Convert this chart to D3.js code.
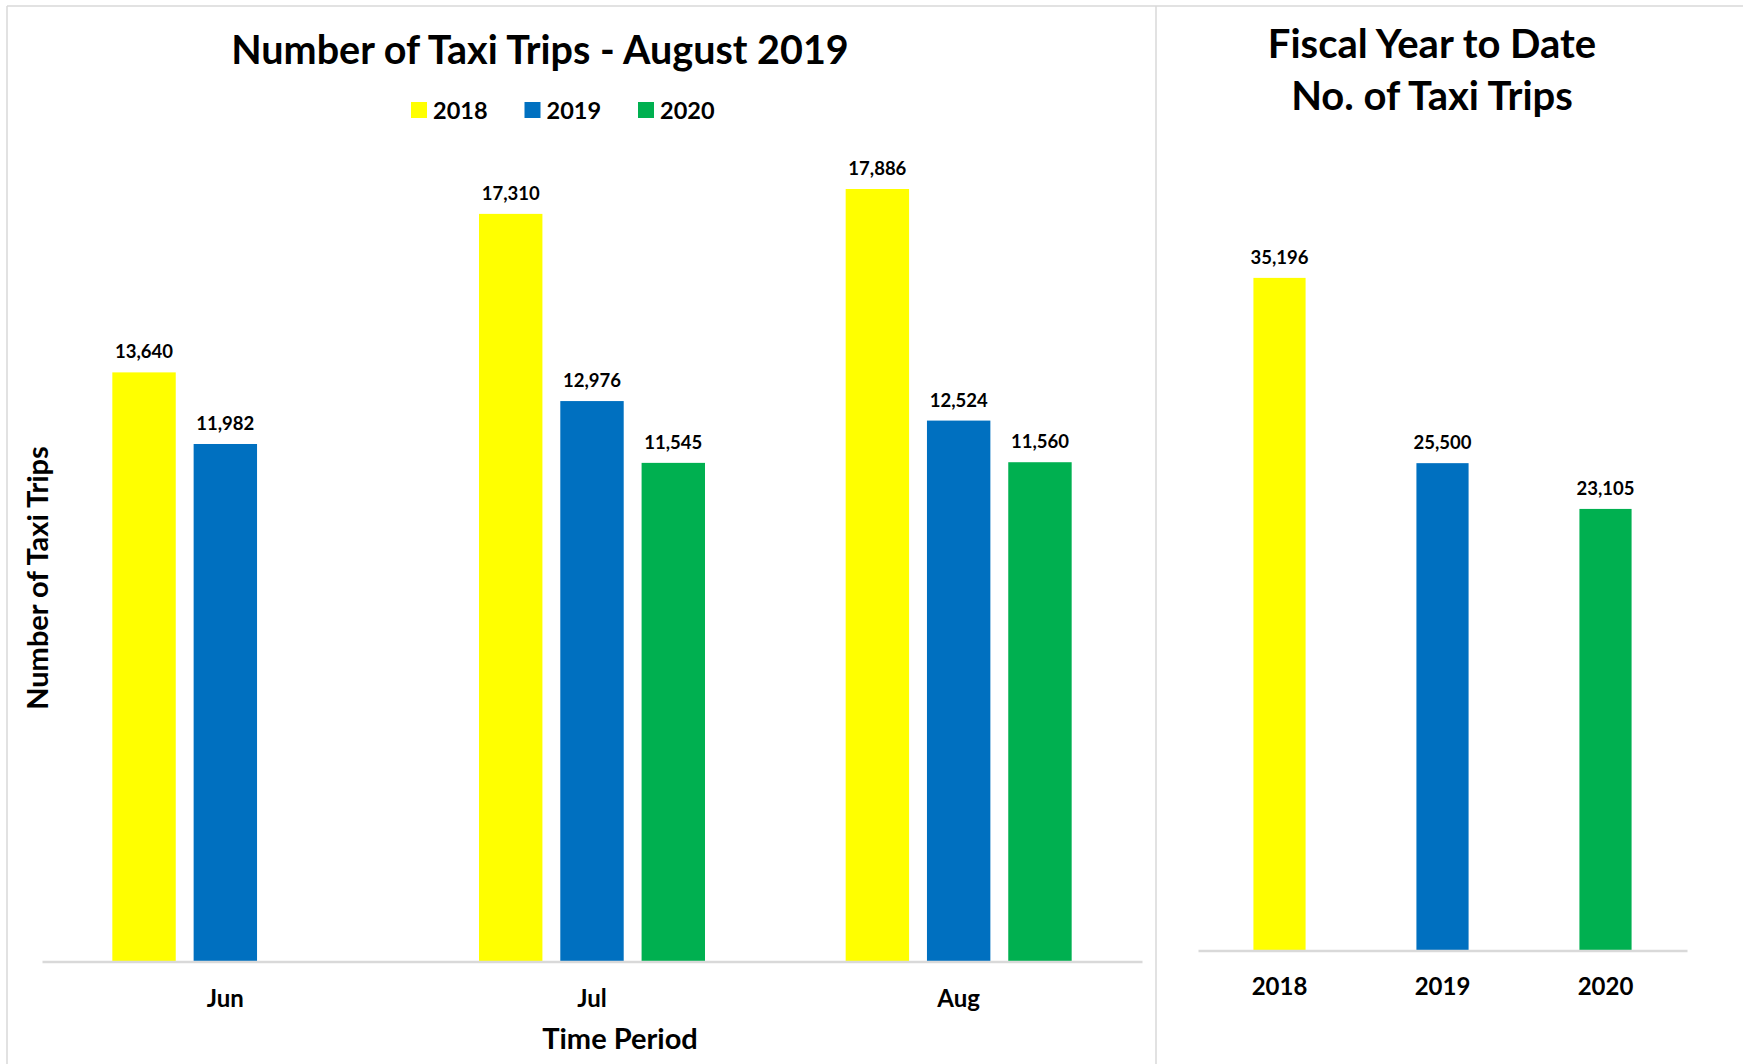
<!DOCTYPE html>
<html>
<head>
<meta charset="utf-8">
<script src="https://cdn.jsdelivr.net/npm/d3@7"></script>
<style>
  html, body { margin: 0; padding: 0; background: #fff; }
  svg { display: block; font-family: Lato, "Open Sans", sans-serif; font-weight: bold; }
</style>
</head>
<body>
<svg id="chart" width="1743" height="1064"></svg>
<script>
// Monthly taxi trips by fiscal year
const months = ["Jun", "Jul", "Aug"];
const series = ["2018", "2019", "2020"];
const trips2018 = [13640, 17310, 17886];
const trips2019 = [11982, 12976, 12524];
const trips2020 = [null, 11545, 11560];

// Fiscal-year-to-date totals
const fytdYears = ["2018", "2019", "2020"];
const fytdTrips = [35196, 25500, 23105];

const colors = { "2018": "#FFFF00", "2019": "#0070C0", "2020": "#00B050" };
const fmt = d3.format(",");

const svg = d3.select("#chart");

// panel frames
const frame = svg.append("g").attr("stroke", "#D9D9D9").attr("stroke-width", 1.5).attr("fill", "none");
frame.append("line").attr("x1", 7).attr("x2", 1743).attr("y1", 6).attr("y2", 6);
frame.append("line").attr("x1", 7).attr("x2", 7).attr("y1", 6).attr("y2", 1064);
frame.append("line").attr("x1", 1156).attr("x2", 1156).attr("y1", 6).attr("y2", 1064);

// ---------- Left chart: monthly trips ----------
const left = svg.append("g");
const rows = months.map((m, i) => ({
  month: m,
  values: [
    { key: "2018", v: trips2018[i] },
    { key: "2019", v: trips2019[i] },
    { key: "2020", v: trips2020[i] }
  ].filter(d => d.v != null)
}));

const x0 = d3.scaleBand().domain(months).range([42, 1142]);
const groupW = 226;
const x1 = d3.scaleBand().domain(series).range([0, groupW]).paddingInner(0.22);
const y = d3.scaleLinear().domain([0, 20000]).range([961.5, 97.7]);

left.append("text")
  .attr("x", 540).attr("y", 64)
  .attr("text-anchor", "middle")
  .attr("font-size", 39.5)
  .text("Number of Taxi Trips - August 2019");

// legend
const lg = d3.scaleBand().domain(series).range([411, 411 + 3 * 113.5]);
const li = left.selectAll(".leg").data(series).join("g").attr("class", "leg")
  .attr("transform", d => `translate(${lg(d)},110)`);
li.append("rect").attr("x", 0).attr("y", -8).attr("width", 16).attr("height", 16).attr("fill", d => colors[d]);
li.append("text").attr("x", 22).attr("y", 8.5).attr("font-size", 23.5).text(d => d);

const grp = left.selectAll(".grp").data(rows).join("g").attr("class", "grp")
  .attr("transform", d => `translate(${x0(d.month) + x0.bandwidth() / 2 - groupW / 2},0)`);
grp.selectAll("rect").data(d => d.values).join("rect")
  .attr("x", d => x1(d.key))
  .attr("width", x1.bandwidth())
  .attr("y", d => y(d.v))
  .attr("height", d => y(0) - y(d.v))
  .attr("fill", d => colors[d.key]);
grp.selectAll("text").data(d => d.values).join("text")
  .attr("x", d => x1(d.key) + x1.bandwidth() / 2)
  .attr("y", d => y(d.v) - 14)
  .attr("text-anchor", "middle")
  .attr("font-size", 18.5)
  .text(d => fmt(d.v));

const xAxisL = left.append("g").attr("transform", `translate(0,${y(0)})`)
  .call(d3.axisBottom(x0).tickSize(0).tickPadding(28));
xAxisL.select(".domain").attr("stroke", "#D9D9D9").attr("stroke-width", 2.5);
xAxisL.selectAll(".tick text").attr("font-size", 24).attr("fill", "#000")
  .attr("font-family", "Lato, 'Open Sans', sans-serif").attr("font-weight", "bold");

left.append("text")
  .attr("x", 620).attr("y", 1049)
  .attr("text-anchor", "middle").attr("font-size", 29)
  .text("Time Period");

left.append("text")
  .attr("transform", "translate(48,578) rotate(-90)")
  .attr("text-anchor", "middle").attr("font-size", 29)
  .text("Number of Taxi Trips");

// ---------- Right chart: fiscal year to date ----------
const right = svg.append("g");
const xr = d3.scaleBand().domain(fytdYears).range([1198, 1687]).paddingInner(0.68).paddingOuter(0.34);
const yr = d3.scaleLinear().domain([0, 40000]).range([950.4, 186.1]);
const fy = fytdYears.map((yy, i) => ({ key: yy, v: fytdTrips[i] }));

right.append("text").attr("text-anchor", "middle").attr("font-size", 40)
  .selectAll("tspan").data(["Fiscal Year to Date", "No. of Taxi Trips"]).join("tspan")
  .attr("x", 1432).attr("y", (d, i) => 58 + i * 52).text(d => d);

right.selectAll(".fb").data(fy).join("rect").attr("class", "fb")
  .attr("x", d => xr(d.key)).attr("width", xr.bandwidth())
  .attr("y", d => yr(d.v)).attr("height", d => yr(0) - yr(d.v))
  .attr("fill", d => colors[d.key]);
right.selectAll(".fl").data(fy).join("text").attr("class", "fl")
  .attr("x", d => xr(d.key) + xr.bandwidth() / 2)
  .attr("y", d => yr(d.v) - 14)
  .attr("text-anchor", "middle").attr("font-size", 18.5)
  .text(d => fmt(d.v));

const xAxisR = right.append("g").attr("transform", `translate(0,${yr(0)})`)
  .call(d3.axisBottom(xr).tickSize(0).tickPadding(28));
xAxisR.select(".domain").attr("stroke", "#D9D9D9").attr("stroke-width", 2.5);
xAxisR.selectAll(".tick text").attr("font-size", 24).attr("fill", "#000")
  .attr("font-family", "Lato, 'Open Sans', sans-serif").attr("font-weight", "bold");
</script>
</body>
</html>
